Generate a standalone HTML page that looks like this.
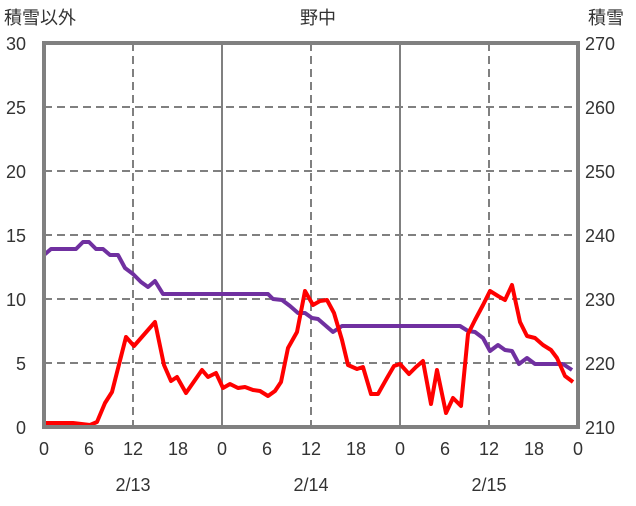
<!DOCTYPE html>
<html><head><meta charset="utf-8"><style>
body{margin:0;background:#fff}
svg text{font-family:"Liberation Sans","Noto Sans CJK JP",sans-serif;font-size:18px;fill:#333}
</style></head><body>
<svg width="636" height="501" viewBox="0 0 636 501">
<rect width="636" height="501" fill="#fff"/>
<g stroke="#808080" stroke-width="2" stroke-dasharray="8,5">
<line x1="44" x2="578" y1="107" y2="107"/><line x1="44" x2="578" y1="171" y2="171"/>
<line x1="44" x2="578" y1="235" y2="235"/><line x1="44" x2="578" y1="299" y2="299"/>
<line x1="44" x2="578" y1="363" y2="363"/>
<line x1="133" x2="133" y1="43" y2="427"/><line x1="311" x2="311" y1="43" y2="427"/><line x1="489" x2="489" y1="43" y2="427"/>
</g>
<g stroke="#808080" stroke-width="2"><line x1="222" x2="222" y1="43" y2="427"/><line x1="400" x2="400" y1="43" y2="427"/></g>
<polyline fill="none" stroke="#7030a0" stroke-width="4" stroke-linejoin="round" points="44,255 51,249 59,249 66,249 76,249 83,242 89,242 96,249 103,249 110,255 118,255 125,268 133,274 141,282 148,287 155,281 163,294 268,294 273,299 282,300 290,306 298,313 305,313 312,318 318,319 333,332 342,326 460,326 468,331 475,332 483,338 490,351 498,345 505,350 512,351 519,364 527,358 535,364 563,364 572,370"/>
<polyline fill="none" stroke="#ff0000" stroke-width="4" stroke-linejoin="round" points="45,423 73,423 90,425 97,422 105,403 112,392 126,337 134,346 155,322 164,365 171,381 177,377 186,393 202,370 208,377 216,373 223,388 230,384 238,388 245,387 253,390 260,391 268,396 275,391 281,382 288,348 297,332 305,291 313,305 320,301 327,300 334,313 342,340 348,365 357,369 363,367 371,394 378,394 387,378 394,366 400,364 409,374 416,367 423,361 431,404 437,370 446,413 453,398 461,406 468,334 475,320 483,305 490,291 498,296 505,300 512,285 520,322 527,336 535,338 543,345 551,350 557,358 565,376 573,382"/>
<rect x="44" y="43" width="534" height="384" fill="none" stroke="#808080" stroke-width="4"/>
<g text-anchor="end">
<text x="26" y="50">30</text><text x="26" y="114">25</text><text x="26" y="178">20</text><text x="26" y="242">15</text><text x="26" y="306">10</text><text x="26" y="370">5</text><text x="26" y="434">0</text>
</g>
<g text-anchor="start">
<text x="585" y="50">270</text><text x="585" y="114">260</text><text x="585" y="178">250</text><text x="585" y="242">240</text><text x="585" y="306">230</text><text x="585" y="370">220</text><text x="585" y="434">210</text>
</g>
<g text-anchor="middle">
<text x="44" y="455">0</text><text x="89" y="455">6</text><text x="133" y="455">12</text><text x="178" y="455">18</text>
<text x="222" y="455">0</text><text x="267" y="455">6</text><text x="311" y="455">12</text><text x="356" y="455">18</text>
<text x="400" y="455">0</text><text x="445" y="455">6</text><text x="489" y="455">12</text><text x="534" y="455">18</text><text x="578" y="455">0</text>
<text x="133" y="491">2/13</text><text x="311" y="491">2/14</text><text x="489" y="491">2/15</text>
<text x="318" y="24">野中</text>
</g>
<text x="4" y="24">積雪以外</text>
<text x="588" y="24">積雪</text>
</svg>
</body></html>
